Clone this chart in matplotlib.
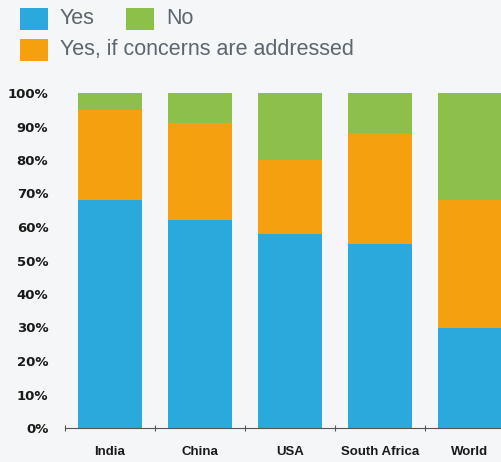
import matplotlib
matplotlib.use("Agg")
import matplotlib.pyplot as plt
from matplotlib.patches import Rectangle
import numpy as np

categories = ["India", "China", "USA", "South Africa", "World"]
yes = [68, 62, 58, 55, 30]
yes_if = [27, 29, 22, 33, 38]
no = [5, 9, 20, 12, 32]
yticks = [0, 10, 20, 30, 40, 50, 60, 70, 80, 90, 100]
ytick_labels = [f"{v}%" for v in yticks]
legend_labels = ["Yes", "No", "Yes, if concerns are addressed"]

c_yes = "#2aa9dd"
c_if = "#f5a00e"
c_no = "#8cc04b"
bg = "#f4f6f7"

W, H = 501, 462
fig = plt.figure(figsize=(W / 100, H / 100), dpi=100)
fig.patch.set_facecolor(bg)

ax = fig.add_axes([65 / W, (H - 428) / H, (W - 65) / W, (428 - 93) / H])
ax.set_facecolor(bg)
x = np.arange(len(categories))
bw = 0.71
ax.bar(x, yes, bw, color=c_yes)
ax.bar(x, yes_if, bw, bottom=yes, color=c_if)
ax.bar(x, no, bw, bottom=np.array(yes) + np.array(yes_if), color=c_no)

ax.set_xlim(-0.5, 4.345)
ax.set_ylim(0, 100)
for s in ["top", "right", "left"]:
    ax.spines[s].set_visible(False)
ax.spines["bottom"].set_color("#555555")
ax.spines["bottom"].set_linewidth(0.8)

ax.set_yticks(yticks)
ax.set_yticklabels(ytick_labels, fontfamily="DejaVu Sans", fontweight="bold",
                   fontsize=9.5, color="#1a1a1a")
ax.tick_params(axis="y", length=0, pad=12)

ax.set_xticks(x)
ax.set_xticklabels(categories, fontfamily="Liberation Sans", fontweight="bold",
                   fontsize=9.5, color="#1a1a1a")
ax.tick_params(axis="x", which="major", length=0, pad=13)
ax.set_xticks(np.arange(-0.5, 4.0, 1.0), minor=True)
ax.tick_params(axis="x", which="minor", length=4, width=0.8, color="#555555",
               direction="inout")

# legend
def legend_item(px, py, color, label):
    fig.patches.append(Rectangle((px / W, 1 - (py + 22) / H), 28 / W, 22 / H,
                                 transform=fig.transFigure, facecolor=color,
                                 edgecolor="none"))
    fig.text((px + 40) / W, 1 - (py + 11) / H, label, fontsize=15.5,
             color="#5b6670", va="center", ha="left", fontfamily="Liberation Sans")

legend_item(20, 8, c_yes, legend_labels[0])
legend_item(126, 8, c_no, legend_labels[1])
legend_item(20, 39, c_if, legend_labels[2])

fig.savefig("out.png", dpi=100, facecolor=bg)
